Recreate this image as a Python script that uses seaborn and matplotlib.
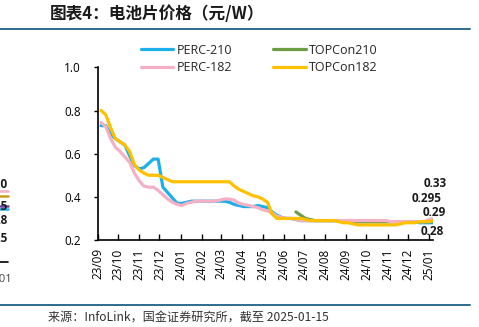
import numpy as np
import pandas as pd
import matplotlib
matplotlib.use("Agg")
import matplotlib.pyplot as plt
import matplotlib.dates as mdates
from matplotlib.lines import Line2D
import seaborn as sns

# Weekly cell prices (RMB/W), last observation 2025-01-15
dates = pd.date_range(end="2025-01-15", periods=72, freq="7D")

perc_210 = [0.73, 0.73, 0.69, 0.67, 0.655, 0.64, 0.59, 0.545, 0.53, 0.535,
            0.555, 0.575, 0.575, 0.445, 0.42, 0.395, 0.37, 0.37, 0.375, 0.38,
            0.38, 0.38, 0.38, 0.38, 0.38, 0.38, 0.38, 0.375, 0.365, 0.36,
            0.355, 0.355, 0.355, 0.36, 0.355, 0.35, 0.33, 0.315, 0.305, 0.30,
            0.30, 0.295] + [0.29] * 9 + [0.285] * 16 + [0.28] * 5

perc_182 = [0.745, 0.725, 0.67, 0.63, 0.61, 0.585, 0.56, 0.51, 0.475, 0.45,
            0.445, 0.445, 0.43, 0.41, 0.39, 0.375, 0.365, 0.36, 0.37, 0.375,
            0.38, 0.38, 0.38, 0.38, 0.38, 0.385, 0.39, 0.39, 0.385, 0.37,
            0.365, 0.36, 0.355, 0.35, 0.34, 0.335, 0.325, 0.31, 0.305, 0.30,
            0.30, 0.295] + [0.29] * 19 + [0.285] * 8 + [0.295, 0.30, 0.33]

topcon_182 = [0.80, 0.78, 0.72, 0.67, 0.655, 0.64, 0.61, 0.55, 0.525, 0.51,
              0.50, 0.50, 0.50, 0.49, 0.48, 0.47] + [0.47] * 12 + \
             [0.45, 0.435, 0.425, 0.415, 0.405, 0.40, 0.39, 0.375, 0.32, 0.30] + \
             [0.30] * 5 + [0.295] + [0.29] * 6 + \
             [0.285, 0.28, 0.28, 0.275, 0.27] + [0.27] * 8 + \
             [0.275, 0.28, 0.28, 0.28, 0.285, 0.285, 0.285, 0.29, 0.295]

topcon_210 = [np.nan] * 41 + [0.33, 0.315, 0.30, 0.295] + [0.29] * 6 + \
             [0.285] * 20 + [0.29]

series_names = ["PERC-210", "TOPCon210", "PERC-182", "TOPCon182"]
series_values = [perc_210, topcon_210, perc_182, topcon_182]
palette = {"PERC-210": "#1CB0EA", "TOPCon210": "#6C9D45",
           "PERC-182": "#F5B0C6", "TOPCon182": "#FFC000"}

df = pd.concat(
    [pd.DataFrame({"date": dates, "price": vals, "series": name})
     for name, vals in zip(series_names, series_values)],
    ignore_index=True,
)

sns.set_style("ticks")
plt.rcParams["font.family"] = ["Open Sans", "Noto Sans CJK SC", "DejaVu Sans"]

fig = plt.figure(figsize=(4.79, 3.27), dpi=100)
ax = fig.add_axes([0.204, 0.266, 0.700, 0.528])

sns.lineplot(data=df, x="date", y="price", hue="series", hue_order=series_names,
             palette=palette, linewidth=2.3, estimator=None, sort=False,
             legend=False, ax=ax)

ax.set_xlim(pd.Timestamp("2023-09-01"), pd.Timestamp("2025-01-07"))
ax.set_ylim(0.2, 1.0)
ax.set_yticks([0.2, 0.4, 0.6, 0.8, 1.0])
ax.yaxis.set_major_formatter(matplotlib.ticker.FormatStrFormatter("%.1f"))
ax.xaxis.set_major_locator(mdates.MonthLocator())
ax.xaxis.set_major_formatter(mdates.DateFormatter("%y/%m"))
ax.set_xlabel("")
ax.set_ylabel("")

for side in ("top", "right"):
    ax.spines[side].set_visible(False)
for side in ("left", "bottom"):
    ax.spines[side].set_color("black")
    ax.spines[side].set_linewidth(1.2)
ax.tick_params(axis="y", direction="out", length=3, width=1, pad=9,
               labelsize=8.5, colors="black")
ax.tick_params(axis="x", direction="in", length=4, width=1, pad=6,
               labelsize=8.5, colors="black", labelrotation=90)

# Legend: two columns, PERC on the left, TOPCon on the right
order = ["PERC-210", "PERC-182", "TOPCon210", "TOPCon182"]
handles = [Line2D([], [], color=palette[n], linewidth=2.3) for n in order]
fig.legend(handles, order, loc="upper left", bbox_to_anchor=(0.294, 0.866),
           ncol=2, frameon=False, fontsize=9, handlelength=2.6,
           handletextpad=0.25, columnspacing=3.3, labelspacing=0.35,
           borderpad=0, borderaxespad=0)

# End-of-series value labels
label_offsets = {"PERC-182": (-3, 28), "TOPCon182": (-12, 21),
                 "TOPCon210": (-4, 8.5), "PERC-210": (-6, -9)}
for name, vals in zip(series_names, series_values):
    v = vals[-1]
    ax.annotate(f"{v:g}", xy=(dates[-1], v), xytext=label_offsets[name],
                textcoords="offset pixels", ha="center", va="center",
                fontsize=8.5, fontweight="bold", color="#1a1a1a",
                annotation_clip=False)

# Title, rules and source note
fig.text(0.104, 0.958, "图表4：电池片价格（元/W）", fontsize=12,
         fontweight="bold", style="italic", color="#1a1a1a",
         ha="left", va="center",
         family=["Noto Sans CJK SC", "DejaVu Sans"])
fig.add_artist(Line2D([0, 0.981], [0.910, 0.910], transform=fig.transFigure,
                      color="#2E6B8F", linewidth=1.4))
fig.add_artist(Line2D([0, 0.981], [0.067, 0.067], transform=fig.transFigure,
                      color="#2E6B8F", linewidth=1.4))
fig.text(0.100, 0.030, "来源：InfoLink，国金证券研究所，截至 2025-01-15",
         fontsize=8.7, color="#333333", ha="left", va="center",
         family=["Noto Sans CJK SC", "DejaVu Sans"])

# Right edge of the neighbouring panel
W, H = 479.0, 327.0
for txt, y in [("0.30", 184), ("0.25", 206.5), ("0.28", 221), ("0.25", 238.5)]:
    fig.text(8 / W, 1 - y / H, txt, fontsize=8.5, fontweight="bold",
             color="#1a1a1a", ha="right", va="center")
for color, y in [("#F5B0C6", 190.7), ("#C8A020", 196.5), ("#6A3FA0", 206),
                 ("#1CB0EA", 209)]:
    fig.add_artist(Line2D([0, 8 / W], [1 - y / H, 1 - y / H],
                          transform=fig.transFigure, color=color, linewidth=1.8))
fig.add_artist(Line2D([0, 8 / W], [1 - 262 / H, 1 - 262 / H],
                      transform=fig.transFigure, color="black", linewidth=1.2))
fig.text(12 / W, 1 - 280 / H, "25/01", fontsize=8, color="#444444",
         ha="right", va="center")

fig.savefig("out.png", dpi=100)
